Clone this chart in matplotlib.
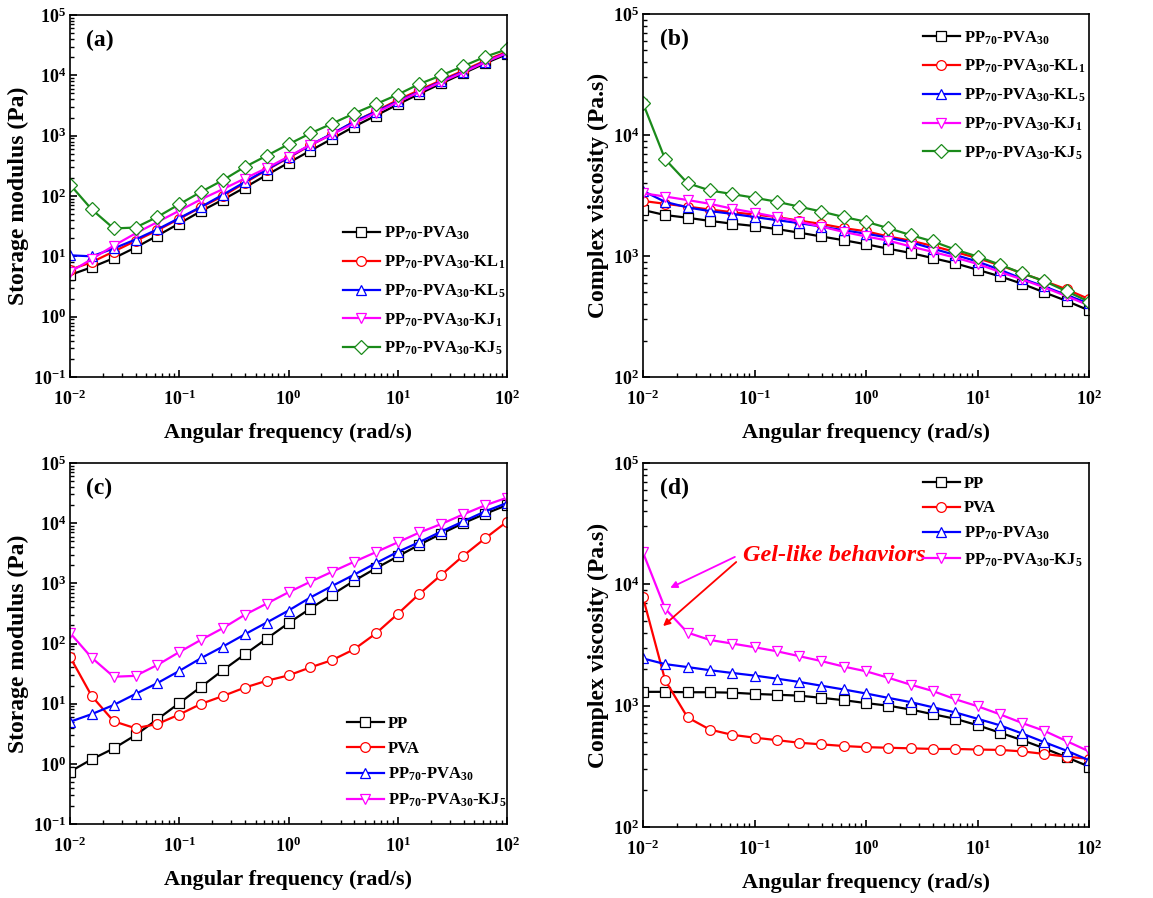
import numpy as np
import matplotlib
matplotlib.use("Agg")
import matplotlib.pyplot as plt

plt.rcParams['font.family'] = ['Liberation Serif', 'DejaVu Serif']
plt.rcParams['font.weight'] = 'bold'
plt.rcParams['mathtext.fontset'] = 'custom'
plt.rcParams['mathtext.rm'] = 'Liberation Serif:bold'
plt.rcParams['mathtext.bf'] = 'Liberation Serif:bold'
plt.rcParams['mathtext.it'] = 'Liberation Serif:bold:italic'
plt.rcParams['mathtext.default'] = 'regular'
plt.rcParams['axes.unicode_minus'] = False

# angular frequency, 5 points per decade
freq = [0.01, 0.0158, 0.0251, 0.0398, 0.0631, 0.1, 0.158, 0.251, 0.398, 0.631,
        1.0, 1.58, 2.51, 3.98, 6.31, 10.0, 15.8, 25.1, 39.8, 63.1, 100.0]

# (a) storage modulus
g_blend = [4.9, 6.6, 9.3, 14, 22, 35, 56, 87, 138, 223, 355, 562, 891, 1413, 2150,
           3300, 4950, 7350, 10800, 15800, 22500]
g_kl1 = [6, 8, 12, 18, 27, 42, 65, 100, 165, 270, 430, 690, 1070, 1700, 2550,
         3900, 5700, 8300, 12000, 17500, 24500]
g_kl5 = [10.4, 10, 13.5, 19, 28, 43, 66, 105, 170, 275, 440, 700, 1080, 1700, 2500,
         3700, 5400, 8000, 11500, 16800, 23500]
g_kj1 = [5.5, 9, 15, 24, 37, 57, 88, 130, 195, 290, 450, 700, 1050, 1600, 2400,
         3600, 5300, 7800, 11200, 16500, 23500]
g_kj5 = [155, 60, 29, 30, 45, 73, 117, 183, 303, 465, 720, 1090, 1590, 2330, 3330,
         4800, 7200, 10000, 14200, 20300, 27000]

# (b) complex viscosity
v_blend = [2400, 2180, 2070, 1950, 1850, 1770, 1670, 1560, 1450, 1350, 1250, 1150,
           1060, 960, 870, 770, 680, 590, 500, 425, 355]
v_kl1 = [2850, 2700, 2560, 2420, 2300, 2200, 2100, 1960, 1840, 1700, 1600, 1450,
         1340, 1210, 1080, 960, 840, 720, 620, 530, 440]
v_kl5 = [3450, 2800, 2520, 2350, 2230, 2100, 1980, 1870, 1750, 1630, 1530, 1420,
         1300, 1150, 1020, 900, 770, 650, 560, 475, 405]
v_kj1 = [3300, 3100, 2900, 2700, 2460, 2280, 2100, 1920, 1750, 1580, 1450, 1340,
         1200, 1080, 970, 860, 740, 640, 550, 465, 390]
v_kj5 = [18300, 6300, 4000, 3480, 3250, 3030, 2810, 2560, 2330, 2100, 1920, 1700,
         1490, 1320, 1130, 990, 850, 720, 620, 510, 420]

# (c) storage modulus of neat polymers
g_pp = [0.74, 1.19, 1.8, 3.0, 5.5, 10.2, 19, 36, 66, 120, 218, 380, 650, 1100, 1780,
        2800, 4400, 6700, 10000, 14300, 20000]
g_pva = [60, 13.4, 5.1, 3.9, 4.6, 6.6, 9.9, 13.4, 18.5, 24, 29.5, 40, 53, 80, 147,
         310, 670, 1390, 2870, 5600, 10600]
g_blend_c = [5.0, 6.7, 9.5, 14.5, 22, 35, 57, 89, 142, 223, 353, 580, 905, 1390, 2170,
             3330, 4850, 7300, 10700, 15700, 21700]
g_kj5_c = [150, 58, 28, 29, 44, 72, 115, 180, 300, 460, 710, 1060, 1560, 2280, 3300,
           4800, 7000, 9700, 14000, 19800, 26500]

# (d) complex viscosity of neat polymers
v_pp = [1300, 1300, 1290, 1290, 1280, 1250, 1230, 1210, 1160, 1110, 1050, 1000, 930,
        850, 780, 690, 600, 520, 445, 375, 315]
v_pva = [7800, 1620, 800, 635, 575, 545, 520, 495, 480, 465, 455, 450, 445, 440, 440,
         435, 432, 420, 400, 380, 365]
v_blend_d = [2450, 2200, 2080, 1960, 1860, 1770, 1670, 1570, 1460, 1360, 1260, 1160,
             1070, 970, 880, 780, 690, 590, 500, 425, 355]
v_kj5_d = [18300, 6300, 4000, 3480, 3250, 3030, 2810, 2560, 2330, 2100, 1920, 1700,
           1490, 1320, 1130, 990, 850, 720, 620, 510, 420]

lab_blend = r'PP$_{70}$-PVA$_{30}$'
lab_kl1 = r'PP$_{70}$-PVA$_{30}$-KL$_{1}$'
lab_kl5 = r'PP$_{70}$-PVA$_{30}$-KL$_{5}$'
lab_kj1 = r'PP$_{70}$-PVA$_{30}$-KJ$_{1}$'
lab_kj5 = r'PP$_{70}$-PVA$_{30}$-KJ$_{5}$'

green = '#1a8a1a'


def curve(ax, y, color, marker, label):
    ax.plot(freq, y, color=color, marker=marker, markersize=7, markerfacecolor='white',
            markeredgecolor=color, markeredgewidth=0.9, linewidth=1.6, label=label)


def style(ax, ylab, ylim, tag, legpos, lspace):
    ax.set_xscale('log')
    ax.set_yscale('log')
    ax.set_xlim(0.01, 100)
    ax.set_ylim(*ylim)
    ax.set_xlabel('Angular frequency (rad/s)', fontsize=16, fontweight='bold', labelpad=10)
    ax.set_ylabel(ylab, fontsize=17, fontweight='bold', labelpad=3)
    ax.tick_params(which='both', direction='in', top=False, right=False, labelsize=13)
    ax.tick_params(which='major', length=5, width=1.2)
    ax.tick_params(which='minor', length=3, width=1)
    ax.tick_params(axis='x', which='major', pad=9)
    ax.tick_params(axis='y', which='major', pad=3)
    ax.xaxis.set_minor_locator(matplotlib.ticker.LogLocator(subs=np.arange(2, 10)))
    ax.yaxis.set_minor_locator(matplotlib.ticker.LogLocator(subs=np.arange(2, 10), numticks=20))
    ax.yaxis.set_major_locator(matplotlib.ticker.LogLocator(numticks=20))
    for lab in ax.get_xticklabels() + ax.get_yticklabels():
        lab.set_fontweight('bold')
    for s in ax.spines.values():
        s.set_linewidth(1.2)
    ax.text(0.037, 0.93, tag, transform=ax.transAxes, fontsize=17, fontweight='bold',
            va='center')
    ax.legend(loc='upper left', bbox_to_anchor=legpos, frameon=False, fontsize=12,
              handlelength=2.2, handletextpad=0.25, labelspacing=lspace,
              borderaxespad=0, borderpad=0)


fig = plt.figure(figsize=(11.53, 8.98), dpi=100)
W, H = 1153, 898
ax_a = fig.add_axes([70 / W, 1 - 377 / H, 437 / W, 362 / H])
ax_b = fig.add_axes([643 / W, 1 - 377 / H, 446 / W, 363 / H])
ax_c = fig.add_axes([70 / W, 1 - 824 / H, 437 / W, 361 / H])
ax_d = fig.add_axes([643 / W, 1 - 827 / H, 446 / W, 364 / H])

curve(ax_a, g_blend, 'black', 's', lab_blend)
curve(ax_a, g_kl1, 'red', 'o', lab_kl1)
curve(ax_a, g_kl5, 'blue', '^', lab_kl5)
curve(ax_a, g_kj1, 'magenta', 'v', lab_kj1)
curve(ax_a, g_kj5, green, 'D', lab_kj5)
style(ax_a, 'Storage modulus (Pa)', (0.1, 1e5), '(a)', (0.625, 0.42), 0.68)

curve(ax_b, v_blend, 'black', 's', lab_blend)
curve(ax_b, v_kl1, 'red', 'o', lab_kl1)
curve(ax_b, v_kl5, 'blue', '^', lab_kl5)
curve(ax_b, v_kj1, 'magenta', 'v', lab_kj1)
curve(ax_b, v_kj5, green, 'D', lab_kj5)
style(ax_b, 'Complex viscosity (Pa.s)', (100, 1e5), '(b)', (0.628, 0.958), 0.68)

curve(ax_c, g_pp, 'black', 's', 'PP')
curve(ax_c, g_pva, 'red', 'o', 'PVA')
curve(ax_c, g_blend_c, 'blue', '^', lab_blend)
curve(ax_c, g_kj5_c, 'magenta', 'v', lab_kj5)
style(ax_c, 'Storage modulus (Pa)', (0.1, 1e5), '(c)', (0.634, 0.299), 0.52)

curve(ax_d, v_pp, 'black', 's', 'PP')
curve(ax_d, v_pva, 'red', 'o', 'PVA')
curve(ax_d, v_blend_d, 'blue', '^', lab_blend)
curve(ax_d, v_kj5_d, 'magenta', 'v', lab_kj5)
style(ax_d, 'Complex viscosity (Pa.s)', (100, 1e5), '(d)', (0.628, 0.965), 0.52)

ax_d.text(0.224, 0.747, 'Gel-like behaviors', transform=ax_d.transAxes, color='red',
          fontsize=17.5, fontweight='bold', fontstyle='italic', va='center')
ax_d.annotate('', xy=(0.061, 0.657), xytext=(0.206, 0.742), xycoords='axes fraction',
              arrowprops=dict(arrowstyle='-|>', color='magenta', lw=1.3,
                              mutation_scale=10, shrinkA=0, shrinkB=0))
ax_d.annotate('', xy=(0.045, 0.552), xytext=(0.209, 0.728), xycoords='axes fraction',
              arrowprops=dict(arrowstyle='-|>', color='red', lw=1.3,
                              mutation_scale=10, shrinkA=0, shrinkB=0))

fig.savefig('out.png', dpi=100)
